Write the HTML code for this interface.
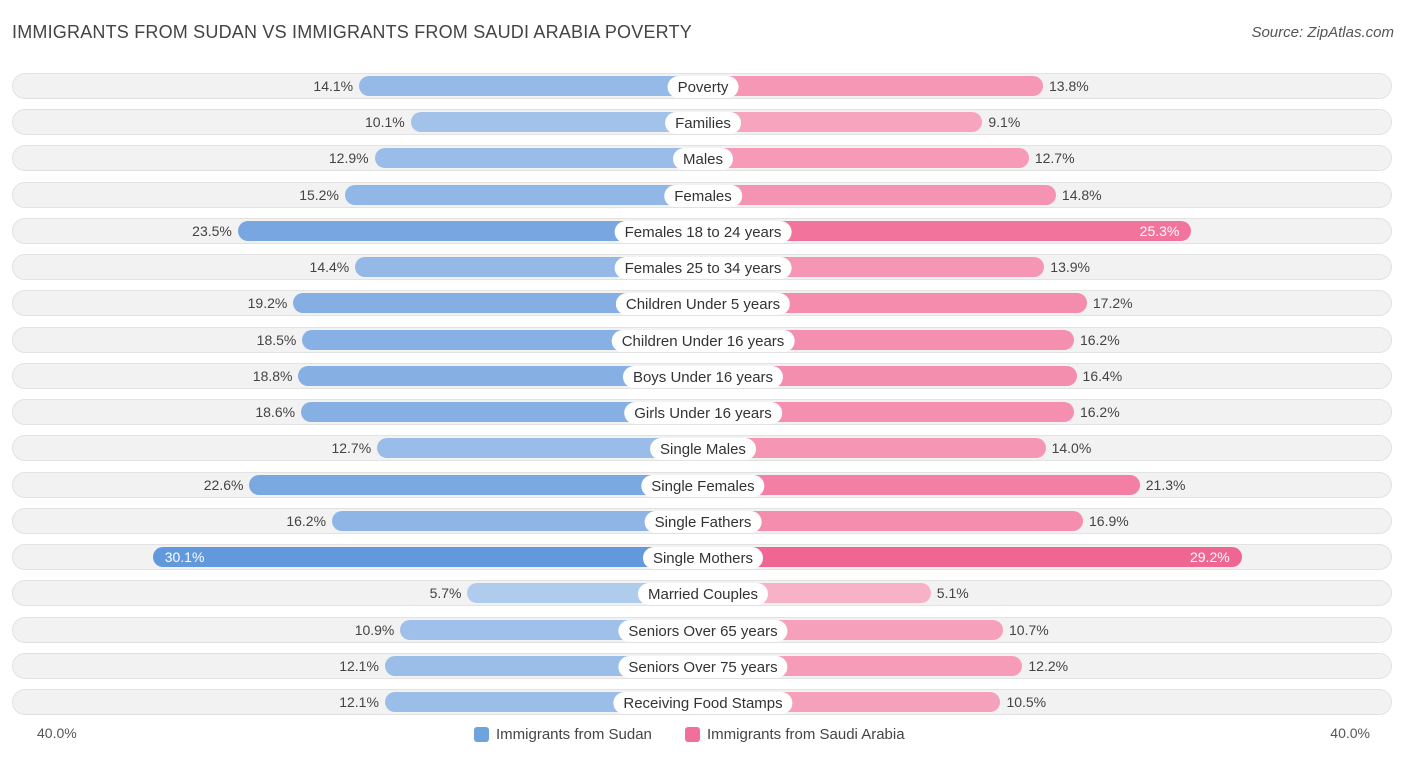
<!DOCTYPE html>
<html><head><meta charset="utf-8"><style>
body{margin:0;width:1406px;height:758px;background:#fff;font-family:"Liberation Sans",sans-serif;overflow:hidden;position:relative}
#title{position:absolute;left:12px;top:22px;font-size:18px;color:#444;letter-spacing:0.2px}
#source{position:absolute;right:12px;top:24px;font-size:15px;color:#555;font-style:italic}
.row{position:absolute;left:12px;width:1380px;height:26px;border-radius:13px;background:#f2f2f2;box-shadow:0 0 0 1px #e2e2e2 inset}
.bar{position:absolute;height:20px;border-radius:10px}
.lab{position:absolute;height:22px;line-height:23px;background:#fff;border-radius:11px;font-size:15px;color:#333;padding:0 10px;transform:translateX(-50%);white-space:nowrap}
.val{position:absolute;font-size:14px;color:#444;line-height:20px}
.axis{position:absolute;top:725px;font-size:14px;color:#555}
.leg{position:absolute;top:726px;font-size:15px;color:#444;display:flex;align-items:center}
.sw{width:15px;height:15px;border-radius:3px;margin-right:7px}
</style></head><body>
<div id="title">IMMIGRANTS FROM SUDAN VS IMMIGRANTS FROM SAUDI ARABIA POVERTY</div>
<div id="source">Source: ZipAtlas.com</div>
<div id="chart"></div>
<div class="axis" style="left:37px">40.0%</div>
<div class="axis" style="right:36px">40.0%</div>
<div class="leg" style="left:474px"><div class="sw" style="background:#6ea3de"></div>Immigrants from Sudan</div>
<div class="leg" style="left:685px"><div class="sw" style="background:#f07099"></div>Immigrants from Saudi Arabia</div>
<script>
const categories=["Poverty","Families","Males","Females","Females 18 to 24 years","Females 25 to 34 years","Children Under 5 years","Children Under 16 years","Boys Under 16 years","Girls Under 16 years","Single Males","Single Females","Single Fathers","Single Mothers","Married Couples","Seniors Over 65 years","Seniors Over 75 years","Receiving Food Stamps"];
const sudan=[14.1,10.1,12.9,15.2,23.5,14.4,19.2,18.5,18.8,18.6,12.7,22.6,16.2,30.1,5.7,10.9,12.1,12.1];
const saudi=[13.8,9.1,12.7,14.8,25.3,13.9,17.2,16.2,16.4,16.2,14.0,21.3,16.9,29.2,5.1,10.7,12.2,10.5];
const CX=703,OFF=162,SC=12.9,Y0=86,DY=36.24;
function w(v){return OFF+v*SC;}
function col(base,light,v){const t=Math.min(1,Math.max(0,(v-5)/25));return `rgb(${base.map((b,i)=>Math.round(light[i]+(b-light[i])*t)).join(',')})`;}
const chart=document.getElementById('chart');
categories.forEach((c,i)=>{
  const y=Y0+i*DY;
  const row=document.createElement('div');row.className='row';row.style.top=(y-13)+'px';
  
  
  chart.appendChild(row);
  const a=sudan[i],b=saudi[i];
  const lb=document.createElement('div');lb.className='bar';
  lb.style.left=(CX-w(a))+'px';lb.style.width=w(a)+'px';lb.style.top=(y-10)+'px';
  lb.style.background=col([98,152,220],[178,205,238],a);
  
  
  chart.appendChild(lb);
  const rb=document.createElement('div');rb.className='bar';
  rb.style.left=CX+'px';rb.style.width=w(b)+'px';rb.style.top=(y-10)+'px';
  rb.style.background=col([240,100,145],[248,178,200],b);
  
  
  chart.appendChild(rb);
  const va=document.createElement('div');va.className='val';va.textContent=a.toFixed(1)+'%';va.style.top=(y-10)+'px';
  if(a>=25){va.style.left=(CX-w(a)+12)+'px';va.style.color='#fff';}else{va.style.right=(1406-(CX-w(a))+6)+'px';}
  
  
  chart.appendChild(va);
  const vb=document.createElement('div');vb.className='val';vb.textContent=b.toFixed(1)+'%';vb.style.top=(y-10)+'px';
  if(b>=25){vb.style.right=(1406-(CX+w(b))+12)+'px';vb.style.color='#fff';}else{vb.style.left=(CX+w(b)+6)+'px';}
  
  
  chart.appendChild(vb);
  const l=document.createElement('div');l.className='lab';l.textContent=c;l.style.left=CX+'px';l.style.top=(y-10)+'px';
  
  
  chart.appendChild(l);
});
</script>
</body></html>
